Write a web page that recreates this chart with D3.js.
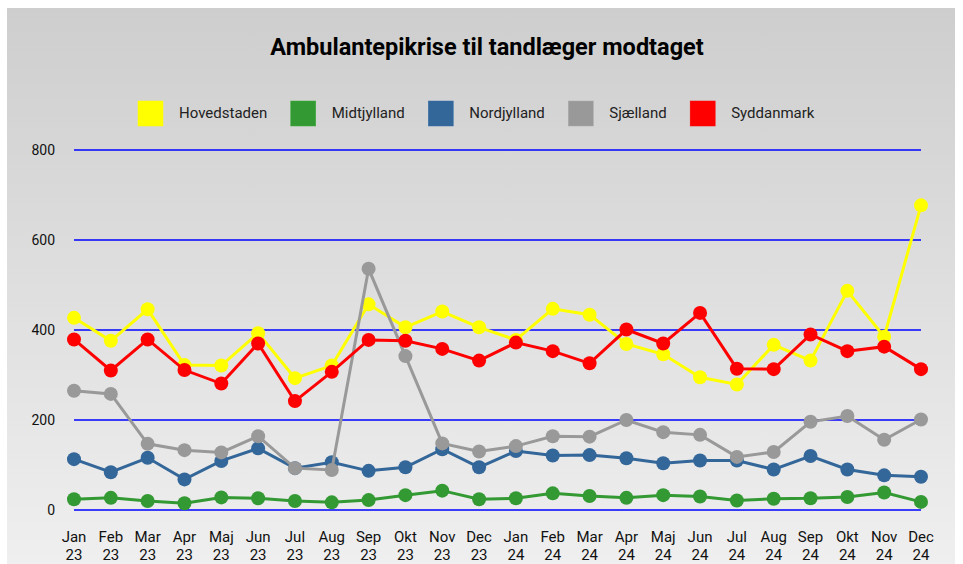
<!DOCTYPE html>
<html>
<head>
<meta charset="utf-8">
<script src="https://cdn.jsdelivr.net/npm/d3@7"></script>
<style>
  body { margin: 0; background: #fff; }
  svg { display: block; font-family: Roboto, "Noto Sans", sans-serif; }
</style>
</head>
<body>
<svg id="chart" width="963" height="564"></svg>
<script>
var months = ["Jan","Feb","Mar","Apr","Maj","Jun","Jul","Aug","Sep","Okt","Nov","Dec"];
var years = ["23","24"];
var regions = ["Hovedstaden","Midtjylland","Nordjylland","Sjælland","Syddanmark"];
var colors = ["#ffff00","#339933","#336699","#999999","#ff0000"];
var yTicks = [0,200,400,600,800];

var hovedstaden = [427,376,446,322,321,393,293,321,457,406,441,406, 378,447,434,369,346,295,279,367,332,487,385,677];
var midtjylland = [24,27,20,15,28,26,20,17,22,33,43,24, 26,37,31,27,33,30,21,25,26,29,39,18];
var nordjylland = [113,84,116,68,109,137,93,106,87,95,135,95, 131,121,122,115,104,110,110,90,120,90,77,74];
var sjaelland   = [265,258,147,133,128,164,93,89,536,342,148,130, 142,164,163,200,173,167,118,129,196,209,156,201];
var syddanmark  = [379,310,379,311,281,370,242,307,378,376,358,332, 372,353,326,401,370,438,314,313,390,353,363,313];

var seriesValues = [hovedstaden, midtjylland, nordjylland, sjaelland, syddanmark];

var labels = [];
years.forEach(function(yr){ months.forEach(function(m){ labels.push(m + " " + yr); }); });

var svg = d3.select("#chart");

// background panel with gradient
var defs = svg.append("defs");
var grad = defs.append("linearGradient").attr("id","bg").attr("x1",0).attr("y1",0).attr("x2",0).attr("y2",1);
grad.append("stop").attr("offset","0%").attr("stop-color","#cecece");
grad.append("stop").attr("offset","100%").attr("stop-color","#efefef");
svg.append("rect").attr("x",7).attr("y",8).attr("width",948).attr("height",556).attr("fill","url(#bg)");

var x = d3.scalePoint().domain(labels).range([74, 921]);
var y = d3.scaleLinear().domain([0, 800]).range([510, 150]);

// title
svg.append("text")
  .attr("x", 487).attr("y", 55)
  .attr("text-anchor","middle")
  .style("font-size","23.5px").style("font-weight","bold").attr("fill","#000")
  .text("Ambulantepikrise til tandlæger modtaget");

// legend
var legend = svg.append("g");
var lx = 0;
var items = legend.selectAll("g").data(regions).enter().append("g");
items.append("rect").attr("width",25).attr("height",25).attr("y",101)
  .attr("fill", function(d,i){ return colors[i]; })
  .attr("stroke", function(d,i){ return d3.color(colors[i]).brighter(0.3); }).attr("stroke-width",0.5);
items.append("text").attr("x",41).attr("y",113).attr("dy","0.35em")
  .style("font-size","15px").attr("fill","#222")
  .text(function(d){ return d; });
items.each(function(){
  var g = d3.select(this);
  var w = g.select("text").node().getComputedTextLength();
  g.attr("transform","translate(" + lx + ",0)");
  lx += 41 + w + 23.5;
});
legend.attr("transform","translate(138,0)");

// grid + y labels
var grid = svg.append("g");
grid.selectAll("line").data(yTicks).enter().append("line")
  .attr("x1", x.range()[0]).attr("x2", x.range()[1])
  .attr("y1", function(d){ return y(d); }).attr("y2", function(d){ return y(d); })
  .attr("stroke","#0000ff").attr("stroke-width",1.3);
grid.selectAll("text").data(yTicks).enter().append("text")
  .attr("x", 55).attr("y", function(d){ return y(d); }).attr("dy","0.35em")
  .attr("text-anchor","end").style("font-size","14px").attr("fill","#111")
  .text(function(d){ return d; });

// x labels (month on top, year below)
var xg = svg.append("g").style("font-size","15px").attr("fill","#111").attr("text-anchor","middle");
xg.selectAll("text.m").data(labels).enter().append("text").attr("class","m")
  .attr("x", function(d){ return x(d); }).attr("y", 542)
  .text(function(d){ return d.split(" ")[0]; });
xg.selectAll("text.yr").data(labels).enter().append("text").attr("class","yr")
  .attr("x", function(d){ return x(d); }).attr("y", 560)
  .text(function(d){ return d.split(" ")[1]; });

// lines
var line = d3.line().x(function(d,i){ return x(labels[i]); }).y(function(d){ return y(d); });
seriesValues.forEach(function(vals, k){
  var g = svg.append("g");
  g.append("path").attr("d", line(vals)).attr("fill","none")
    .attr("stroke", colors[k]).attr("stroke-width",3);
  g.selectAll("circle").data(vals).enter().append("circle")
    .attr("cx", function(d,i){ return x(labels[i]); })
    .attr("cy", function(d){ return y(d); })
    .attr("r", 7).attr("fill", colors[k]);
});
</script>
</body>
</html>
